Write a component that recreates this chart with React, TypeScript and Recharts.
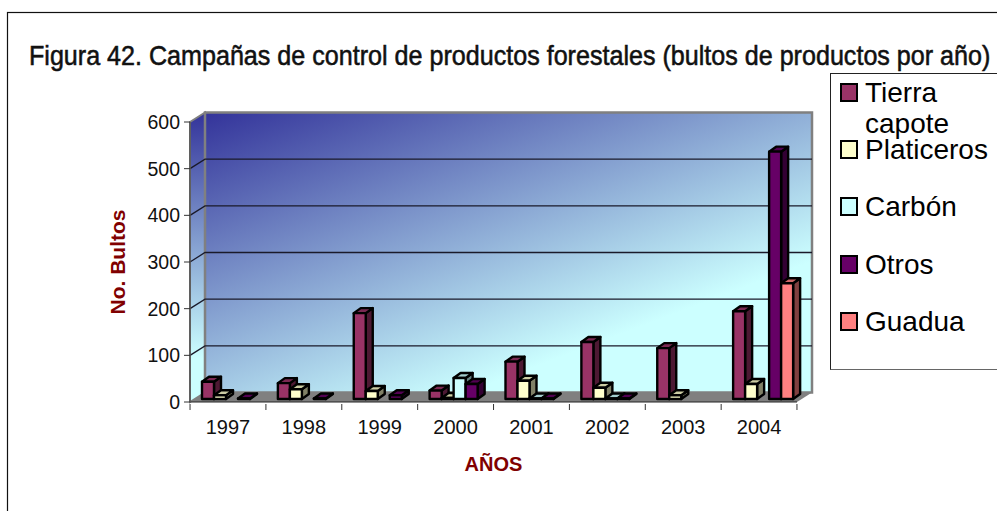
import { BarChart, Bar, XAxis, YAxis, CartesianGrid, Legend } from 'recharts';

const years = ['1997', '1998', '1999', '2000', '2001', '2002', '2003', '2004'];
const tierraCapote = [37, 34, 184, 18, 80, 122, 109, 188];
const platiceros = [8, 21, 17, 2, 39, 24, 8, 32];
const carbon = [null, null, null, 45, 1, 1, null, null];
const otros = [1, 1, 8, 32, 1, 1, null, 530];
const guadua = [null, null, null, null, null, null, null, 248];
const yTicks = [0, 100, 200, 300, 400, 500, 600];

const data = years.map((year, i) => ({
  year,
  tierra: tierraCapote[i],
  platiceros: platiceros[i],
  carbon: carbon[i],
  otros: otros[i],
  guadua: guadua[i],
}));

const series = [
  { key: 'tierra', name: 'Tierra capote', fill: '#993366', side: '#4d1933', top: '#7a2952' },
  { key: 'platiceros', name: 'Platiceros', fill: '#ffffcc', side: '#808066', top: '#cccca3' },
  { key: 'carbon', name: 'Carbón', fill: '#ccffff', side: '#668080', top: '#a3cccc' },
  { key: 'otros', name: 'Otros', fill: '#660066', side: '#330033', top: '#520052' },
  { key: 'guadua', name: 'Guadua', fill: '#ff8080', side: '#804040', top: '#cc6666' },
];

const FONT = '"Liberation Sans", Arial, sans-serif';
// 3d look: wall depth and how far the bars sit into the floor
const DX = 15;
const DY = 9.5;
const BAR_DX = 7;
const BAR_DY = 5;

function Bar3d(props: any) {
  const { x, y, width, height, fill, side, top } = props;
  const px = x + 4.5;
  const py = y - 3;
  const h = height;
  return (
    <g stroke="#000" strokeWidth={2.4} strokeLinejoin="round">
      <polygon
        points={`${px + width},${py} ${px + width + BAR_DX},${py - BAR_DY} ${px + width + BAR_DX},${py + h - BAR_DY} ${px + width},${py + h}`}
        fill={side}
      />
      <polygon
        points={`${px},${py} ${px + BAR_DX},${py - BAR_DY} ${px + width + BAR_DX},${py - BAR_DY} ${px + width},${py}`}
        fill={top}
      />
      <rect x={px} y={py} width={width} height={h} fill={fill} />
    </g>
  );
}

function GridLine3d(props: any) {
  const { x1, x2, y1 } = props;
  if (Math.abs(y1 - 402) < 1 || Math.abs(y1 - 122) < 1) return <g key={y1} />;
  return (
    <polyline
      key={y1}
      points={`${x1},${y1} ${x1 + DX},${y1 - DY} ${x2 + DX},${y1 - DY}`}
      fill="none"
      stroke="#1a1a2a"
      strokeWidth={1.3}
    />
  );
}

function YearTick(props: any) {
  const { x, y, payload, index } = props;
  const half = 37.9;
  return (
    <g>
      <line x1={x - half} x2={x - half} y1={y - 6} y2={y} stroke="#333" />
      {index === years.length - 1 && <line x1={x + half} x2={x + half} y1={y - 6} y2={y} stroke="#333" />}
      <text x={x} y={y + 24} textAnchor="middle" fontSize={20} fontFamily={FONT} fill="#111">
        {payload.value}
      </text>
    </g>
  );
}

function YLabel(props: any) {
  const { y, height } = props.viewBox;
  const lx = 118;
  const ly = y + height / 2;
  return (
    <text x={lx} y={ly} transform={`rotate(-90 ${lx} ${ly})`} dy={7} textAnchor="middle" fontSize={21} fontWeight="bold" fill="#800000" fontFamily={FONT}>
      No. Bultos
    </text>
  );
}

function LegendBox({ payload }: any) {
  const rows = [18, 75, 132, 190, 247];
  return (
    <div style={{ position: 'relative', width: 200, height: 297, background: '#fff', border: '1px solid #222', borderBottomColor: '#666', boxSizing: 'border-box', fontFamily: FONT, fontSize: 28, color: '#000' }}>
      {(payload ?? []).map((item: any, i: number) => (
        <div key={item.value}>
          <div style={{ position: 'absolute', left: 9, top: rows[i] - 9, width: 14, height: 15, background: item.color, border: '2px solid #000' }} />
          <div style={{ position: 'absolute', left: 34, top: rows[i] - 15, width: 125, lineHeight: '31px', whiteSpace: 'normal' }}>{item.value}</div>
        </div>
      ))}
    </div>
  );
}

function Backdrop() {
  return (
    <svg width={997} height={511} style={{ position: 'absolute', left: 0, top: 0 }}>
      <defs>
        <linearGradient id="wallGrad" gradientUnits="userSpaceOnUse" x1="205" y1="112" x2="331" y2="444">
          <stop offset="0%" stopColor="#33339a" />
          <stop offset="100%" stopColor="#ccffff" />
        </linearGradient>
        <linearGradient id="sideGrad" x1="0" y1="0" x2="0" y2="1">
          <stop offset="0%" stopColor="#33339a" />
          <stop offset="85%" stopColor="#ccffff" />
        </linearGradient>
      </defs>
      <rect x={7.5} y={12.5} width={1100} height={600} fill="none" stroke="#111" strokeWidth={1.2} />
      <text transform="translate(29 65) scale(0.93 1)" fontSize={27} stroke="#111" strokeWidth={0.55} fontFamily='"Liberation Sans", sans-serif' fill="#111">
        Figura 42. Campañas de control de productos forestales (bultos de productos por año)
      </text>
      <polygon points="190,122 205,112.5 205,392.5 190,402" fill="url(#sideGrad)" stroke="#808080" strokeWidth={2} />
      <rect x={205} y={112.5} width={607} height={280} fill="url(#wallGrad)" stroke="#808080" strokeWidth={2.5} />
      <polygon points="190,402 205,392.5 812,392.5 797,402" fill="#808080" />
    </svg>
  );
}

export default function App() {
  return (
    <div style={{ position: 'absolute', left: 0, top: 0, width: 997, height: 511, overflow: 'hidden', background: '#fff' }}>
      <Backdrop />
      <div style={{ position: 'absolute', left: 0, top: 0 }}>
        <BarChart
          width={997}
          height={511}
          data={data}
          margin={{ top: 122, right: 200, bottom: 79, left: 130 }}
          barGap={0}
          barCategoryGap={7.5}
        >
          <CartesianGrid vertical={false} horizontal={(p: any) => <GridLine3d {...p} />} />
          <XAxis
            dataKey="year"
            height={30}
            tickLine={false}
            tick={(p: any) => <YearTick {...p} />}
            axisLine={{ stroke: '#222' }}
            interval={0}
            label={{ value: 'AÑOS', position: 'bottom', offset: 25, fontSize: 20, fontWeight: 'bold', fill: '#800000', fontFamily: FONT }}
          />
          <YAxis
            width={60}
            domain={[0, 600]}
            ticks={yTicks}
            interval={0}
            tickSize={6}
            tickMargin={4}
            tick={{ fontSize: 19.5, fill: '#111', fontFamily: FONT }}
            axisLine={{ stroke: '#555', strokeWidth: 1.5 }}
            tickLine={{ stroke: '#333' }}
            label={{ content: (p: any) => <YLabel {...p} /> }}
          />
          {series.map((s) => (
            <Bar
              key={s.key}
              dataKey={s.key}
              name={s.name}
              fill={s.fill}
              isAnimationActive={false}
              shape={(p: any) => <Bar3d {...p} fill={s.fill} side={s.side} top={s.top} />}
            />
          ))}
          <Legend
            layout="vertical"
            align="center"
            verticalAlign="middle"
            itemSorter={null}
            wrapperStyle={{ left: 830, top: 73, width: 200, height: 297 }}
            content={(p: any) => <LegendBox payload={p.payload} />}
          />
        </BarChart>
      </div>
    </div>
  );
}
